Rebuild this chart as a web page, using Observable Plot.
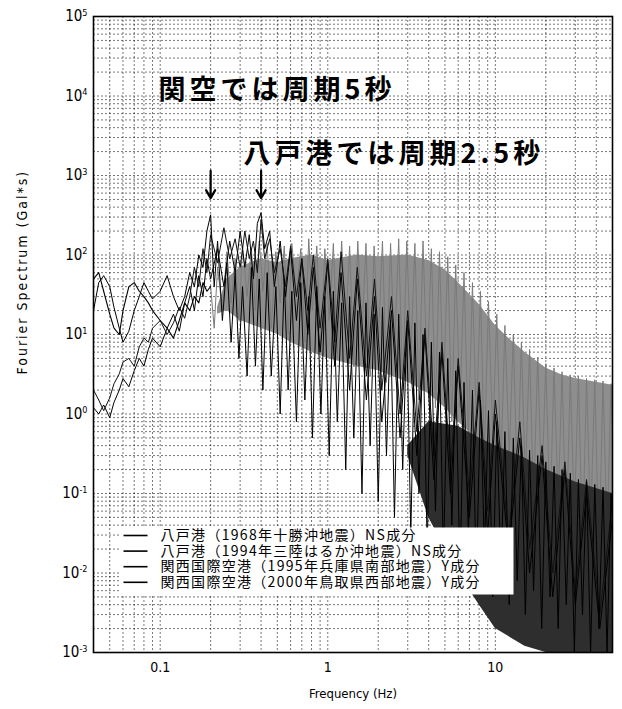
<!DOCTYPE html>
<html><head><meta charset="utf-8">
<script src="https://cdn.jsdelivr.net/npm/d3@7"></script>
<script src="https://cdn.jsdelivr.net/npm/@observablehq/plot@0.6"></script>
<style>body{margin:0;background:#fff;}</style>
</head><body>
<script>
// ---- data ----
const xTicks = [0.1, 1, 10];
const yTicks = [1e-3, 1e-2, 1e-1, 1, 10, 100, 1e3, 1e4, 1e5];
const seriesNames = [
  "八戸港（1968年十勝沖地震）NS成分",
  "八戸港（1994年三陸はるか沖地震）NS成分",
  "関西国際空港（1995年兵庫県南部地震）Y成分",
  "関西国際空港（2000年鳥取県西部地震）Y成分"
];
const annotations = ["関空では周期5秒", "八戸港では周期2.5秒"];
const peakPeriods = [5, 2.5]; // seconds
const xLabel = "Frequency (Hz)";
const yLabel = "Fourier Spectrum (Gal*s)";

const hachi1968 = [
[0.04,1.2],[0.043,1.0],[0.046,1.3],[0.05,0.9],[0.053,1.4],[0.057,2.0],[0.06,2.8],[0.065,2.2],[0.07,3.5],[0.075,5],
[0.08,4],[0.085,6.5],[0.09,9],[0.1,7],[0.11,12],[0.12,18],[0.13,11],[0.14,25],[0.15,40],[0.16,20],
[0.17,55],[0.18,30],[0.19,90],[0.2,50],[0.22,120],[0.24,40],[0.26,150],[0.28,60],[0.3,200],[0.32,70],
[0.34,180],[0.36,50],[0.38,250],[0.4,340],[0.42,120],[0.45,200],[0.48,40],[0.52,150],[0.56,30],[0.6,120],
[0.65,15],[0.7,90],[0.76,10],[0.82,70],[0.9,6],[1.0,80],[1.1,4],[1.2,60],[1.35,2],[1.5,50],
[1.7,1.5],[1.9,30],[2.1,0.8],[2.4,20],[2.7,0.5],[3.0,15],[3.4,0.3],[3.8,10],[4.3,0.15],[4.8,6],
[5.4,0.1],[6,4],[7,0.05],[8,2],[9,0.03],[10,1],[12,0.02],[14,0.5],[16,0.01],[19,0.3],
[22,0.005],[26,0.2],[30,0.004],[35,0.1],[42,0.002],[50,0.05]];

const hachi1994 = [
[0.04,2.0],[0.043,1.5],[0.046,1.1],[0.05,1.6],[0.053,2.4],[0.057,3.2],[0.06,4.5],[0.065,5],[0.07,4],[0.075,7],
[0.08,9],[0.085,8],[0.09,12],[0.1,15],[0.11,10],[0.12,14],[0.13,22],[0.14,16],[0.15,30],[0.16,70],
[0.17,40],[0.18,120],[0.19,60],[0.2,180],[0.22,80],[0.24,220],[0.26,90],[0.28,160],[0.3,70],[0.32,200],
[0.34,90],[0.36,150],[0.38,60],[0.4,280],[0.42,90],[0.45,160],[0.48,60],[0.52,120],[0.56,40],[0.6,130],
[0.65,30],[0.7,90],[0.76,20],[0.82,100],[0.9,12],[1.0,90],[1.1,8],[1.2,110],[1.35,5],[1.5,70],
[1.7,3],[1.9,50],[2.1,2],[2.4,30],[2.7,1],[3.0,20],[3.4,0.6],[3.8,12],[4.3,0.3],[4.8,8],
[5.4,0.2],[6,5],[7,0.1],[8,2.5],[9,0.06],[10,1.5],[12,0.03],[14,0.8],[16,0.02],[19,0.4],
[22,0.01],[26,0.25],[30,0.006],[35,0.15],[42,0.003],[50,0.08]];

const kix1995Low = [[0.04,50],[0.043,60],[0.046,35],[0.05,18],[0.053,12],[0.057,10],[0.06,20],[0.065,40],[0.07,45],[0.075,35],
[0.08,30],[0.085,25],[0.09,20],[0.1,15],[0.11,12],[0.12,9],[0.13,15],[0.14,25],[0.15,20],[0.16,30],[0.17,25],[0.18,45],[0.19,35],[0.2,40]];
const kix2000Low = [[0.04,20],[0.043,45],[0.046,55],[0.05,40],[0.053,22],[0.057,12],[0.06,8],[0.065,11],[0.07,20],[0.075,30],
[0.08,45],[0.085,35],[0.09,28],[0.1,35],[0.11,55],[0.12,30],[0.13,20],[0.14,30],[0.15,60],[0.16,40],[0.17,100],[0.18,70],[0.19,200]];

const denseFreq = [
0.2,0.21,0.22,0.235,0.25,0.265,0.28,0.295,0.31,0.33,
0.35,0.37,0.39,0.41,0.435,0.46,0.49,0.52,0.55,0.58,
0.61,0.65,0.69,0.73,0.77,0.81,0.86,0.91,0.96,1.02,
1.08,1.14,1.21,1.28,1.35,1.43,1.51,1.6,1.69,1.79,
1.89,2.0,2.12,2.24,2.37,2.5,2.65,2.8,2.96,3.13,
3.31,3.5,3.7,3.92,4.15,4.39,4.64,4.9,5.2,5.5,
5.8,6.15,6.5,6.9,7.3,7.7,8.15,8.6,9.1,9.65,
10.2,10.8,11.4,12.1,12.8,13.5,14.3,15.1,16,16.9,
17.9,18.9,20,21.2,22.4,23.7,25,26.5,28,29.6,
31.3,33.1,35,37,39.2,41.5,43.9,46.4,49,50];

const kix1995Dense = [
40,12,70,20,110,25,90,15,130,30,
120,20,150,35,140,12,110,25,130,10,
140,30,120,8,160,20,130,6,120,15,
140,5,150,12,130,4,150,10,140,3,
130,8,150,2.5,140,6,160,2,150,5,
140,1.5,150,3,120,1.2,110,2,95,0.8,
75,1.2,60,0.5,45,0.8,35,0.3,26,0.5,
18,0.2,13,0.3,10,0.12,8,0.15,6.5,0.08,
5.2,0.1,4.3,0.05,3.8,0.07,3.4,0.03,3.1,0.05,
3.0,0.02,2.8,0.04,2.7,0.015,2.6,0.03,2.4,0.5];

const kix2000Dense = [
320,40,150,15,80,8,60,5,40,3,
70,4,50,2,60,3,40,1,50,2,
35,0.8,45,1.5,30,0.5,40,1,30,0.3,
35,0.8,25,0.2,30,0.5,20,0.1,25,0.4,
18,0.08,22,0.3,15,0.05,18,0.2,12,0.03,
14,0.1,10,0.02,8,0.06,6,0.015,5,0.04,
3.5,0.01,2.5,0.03,2,0.008,1.5,0.02,1.1,0.005,
0.8,0.01,0.6,0.004,0.5,0.008,0.4,0.003,0.35,0.006,
0.3,0.002,0.25,0.005,0.22,0.002,0.2,0.004,0.18,0.001,
0.15,0.003,0.14,0.001,0.13,0.002,0.12,0.001,0.1,0.05];

// envelopes of the densely filled parts
const grayBandFreq = [0.22,0.25,0.3,0.4,0.5,0.6,0.8,1,1.5,2,3,4,5,6,8,10,12,15,20,25,30,40,50];
const grayBandHi   = [22,50,70,90,80,90,100,85,100,95,100,85,65,45,24,13,9,6,3.8,3.1,2.8,2.5,2.3];
const grayBandLo   = [18,20,15,12,10,8,6,5,4,3.5,2.5,1.8,1.2,0.8,0.45,0.28,0.2,0.13,0.09,0.07,0.06,0.05,0.05];
const blackBandFreq = [3,4,6,8,10,15,20,30,50];
const blackBandHi   = [0.4,0.8,0.7,0.5,0.4,0.28,0.2,0.14,0.1];
const blackBandLo   = [0.3,0.05,0.01,0.004,0.002,0.0012,0.001,0.001,0.001];

// ---- tables ----
const toRows = a => a.map(([f, v]) => ({f, v}));
const kix1995 = denseFreq.map((f, i) => ({f, v: kix1995Dense[i]}));
const kix2000 = toRows(kix2000Low).concat(denseFreq.map((f, i) => ({f, v: kix2000Dense[i]})));
const grayBand = grayBandFreq.map((f, i) => ({f, hi: grayBandHi[i], lo: grayBandLo[i]}));
const blackBand = blackBandFreq.map((f, i) => ({f, hi: blackBandHi[i], lo: blackBandLo[i]}));

const xGrid = [], yGrid = [];
for (const d of [0.01, 0.1, 1, 10]) for (let m = 1; m <= 9; m++) { const v = +(m * d).toPrecision(3); if (v >= 0.04 && v <= 50) xGrid.push(v); }
for (let e = -3; e <= 4; e++) for (let m = 1; m <= 9; m++) yGrid.push(m * Math.pow(10, e));
yGrid.push(1e5);

const CJK = "'Noto Sans CJK JP', sans-serif";
const latin = "'Liberation Sans Narrow', 'DejaVu Sans Condensed', 'Liberation Sans', sans-serif";

// layout (pixels relative to plot frame)
const frameTop = 16, frameBottom = 652;
const legendMarks = [];
seriesNames.forEach((name, i) => {
  const cy = 535 + i * 15.6;
  legendMarks.push(Plot.frame({fill: "#000", stroke: "none", insetLeft: 30, insetRight: 465, insetTop: cy - 0.8 - frameTop, insetBottom: frameBottom - (cy + 0.8)}));
  legendMarks.push(Plot.text([name], {text: d => d, frameAnchor: "top-left", dx: 67, dy: cy - frameTop, textAnchor: "start", lineAnchor: "middle", fontSize: 14, fontFamily: CJK, fill: "#000"}));
});

const svg = Plot.plot({
  width: 622, height: 709,
  marginLeft: 93, marginRight: 10, marginTop: 16, marginBottom: 57,
  style: {fontFamily: latin, fontSize: "14px", background: "#fff", color: "#000"},
  x: {type: "log", domain: [0.04, 50]},
  y: {type: "log", domain: [1e-3, 1e5]},
  marks: [
    Plot.ruleX(xGrid, {stroke: "#000", strokeOpacity: 0.6, strokeDasharray: "2 2", strokeWidth: 0.9}),
    Plot.ruleY(yGrid, {stroke: "#000", strokeOpacity: 0.6, strokeDasharray: "2 2", strokeWidth: 0.9}),
    Plot.areaY(grayBand, {x: "f", y1: "lo", y2: "hi", fill: "#8e8e8e", clip: true}),
    Plot.line(kix1995, {x: "f", y: "v", stroke: "#7a7a7a", strokeWidth: 1, clip: true}),
    Plot.line(toRows(kix1995Low), {x: "f", y: "v", stroke: "#000", strokeWidth: 1.1, clip: true}),
    Plot.areaY(blackBand, {x: "f", y1: "lo", y2: "hi", fill: "#2e2e2e", clip: true}),
    Plot.line(toRows(hachi1968), {x: "f", y: "v", stroke: "#000", strokeWidth: 1, clip: true}),
    Plot.line(toRows(hachi1994), {x: "f", y: "v", stroke: "#111", strokeWidth: 1, clip: true}),
    Plot.line(kix2000, {x: "f", y: "v", stroke: "#000", strokeWidth: 1, clip: true}),
    Plot.frame({fill: "#fff", stroke: "none", insetLeft: 27, insetRight: 99, insetTop: 511, insetBottom: 58}),
    ...legendMarks,
    Plot.arrow(peakPeriods, {x1: p => 1 / p, x2: p => 1 / p, y1: 1150, y2: 520, stroke: "#000", strokeWidth: 2.2, headLength: 9}),
    Plot.text([annotations[0]], {text: d => d, frameAnchor: "top-left", dx: 65, dy: 74, textAnchor: "start", lineAnchor: "middle", fontSize: 27, fontWeight: "bold", fontFamily: CJK, fill: "#000"}),
    Plot.text([annotations[1]], {text: d => d, frameAnchor: "top-left", dx: 150, dy: 138, textAnchor: "start", lineAnchor: "middle", fontSize: 27, fontWeight: "bold", fontFamily: CJK, fill: "#000"}),
    Plot.axisX(xTicks, {tickSize: 0, tickPadding: 10, label: null, tickFormat: d => String(d), fontSize: 14}),
    Plot.axisY(yTicks, {tickSize: 0, tickPadding: 6, label: null, tickFormat: d => "10^" + Math.round(Math.log10(d)), fontSize: 15}),
    Plot.text([xLabel], {text: d => d, frameAnchor: "bottom", dy: 45, fontSize: 13, fill: "#000"}),
    Plot.text([yLabel], {text: d => d, frameAnchor: "left", dx: -71, dy: 40, rotate: -90, fontSize: 14, fill: "#000"}),
    Plot.frame({stroke: "#000", strokeWidth: 1.6})
  ]
});

d3.select(svg).selectAll("text").each(function () {
  const t = this.textContent;
  const s = d3.select(this);
  const m = /^10\^(-?\d+)$/.exec(t);
  if (m) {
    s.text("10");
    s.append("tspan").attr("dy", "-0.6em").attr("font-size", "0.6em").text(m[1]);
  } else if (annotations.includes(t)) {
    s.attr("letter-spacing", "4px").style("letter-spacing", "4px");
  } else if (t === yLabel) {
    s.attr("letter-spacing", "2px").style("letter-spacing", "2px");
  } else if (seriesNames.includes(t)) {
    s.attr("letter-spacing", "1.3px").style("letter-spacing", "1.3px");
  }
});
document.body.appendChild(svg);
</script>
</body></html>
